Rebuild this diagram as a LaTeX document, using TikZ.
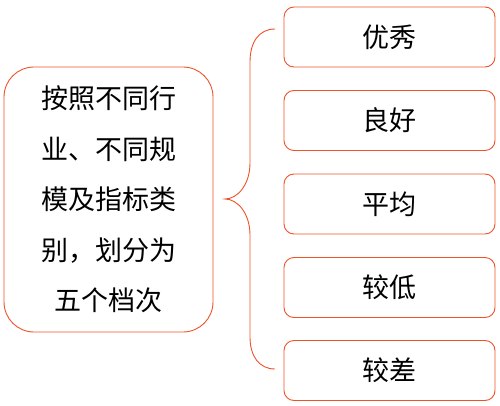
\documentclass[tikz,border=0pt]{standalone}
\usepackage{fontspec}
\setmainfont{Noto Sans CJK SC}
\definecolor{cred}{RGB}{237,82,40}

\begin{document}
\begin{tikzpicture}[y=1pt,x=1pt,yscale=-1,
  box/.style={draw=cred,line width=0.9pt,rounded corners=10pt,
    minimum width=211pt,minimum height=60pt,inner sep=0pt,
    font=\fontsize{27pt}{32pt}\selectfont},
  bigbox/.style={draw=cred,line width=0.9pt,rounded corners=30pt,
    minimum width=209pt,minimum height=265pt,inner sep=0pt,align=center,
    font=\fontsize{27pt}{50.6pt}\selectfont}]
  \useasboundingbox (0,0) rectangle (500,406);

  % left box
  \node[bigbox] (main) at (108.5,199.5) {按照不同行\\业、不同规\\模及指标类\\别，划分为\\五个档次};

  % grades
  \node[box] (g1) at (389.5,37) {优秀};
  \node[box] (g2) at (389.5,120.5) {良好};
  \node[box] (g3) at (389.5,204) {平均};
  \node[box] (g4) at (389.5,287.5) {较低};
  \node[box] (g5) at (389.5,370.5) {较差};

  % brace
  \path[draw=cred,line width=0.9pt]
    (275,29) .. controls (259,29) and (250,42) .. (250,62) -- (250,163)
    .. controls (250,184) and (238,199) .. (225,199)
    .. controls (238,199) and (250,214) .. (250,235) -- (250,337)
    .. controls (250,356) and (259,369) .. (275,369);
\end{tikzpicture}
\end{document}
